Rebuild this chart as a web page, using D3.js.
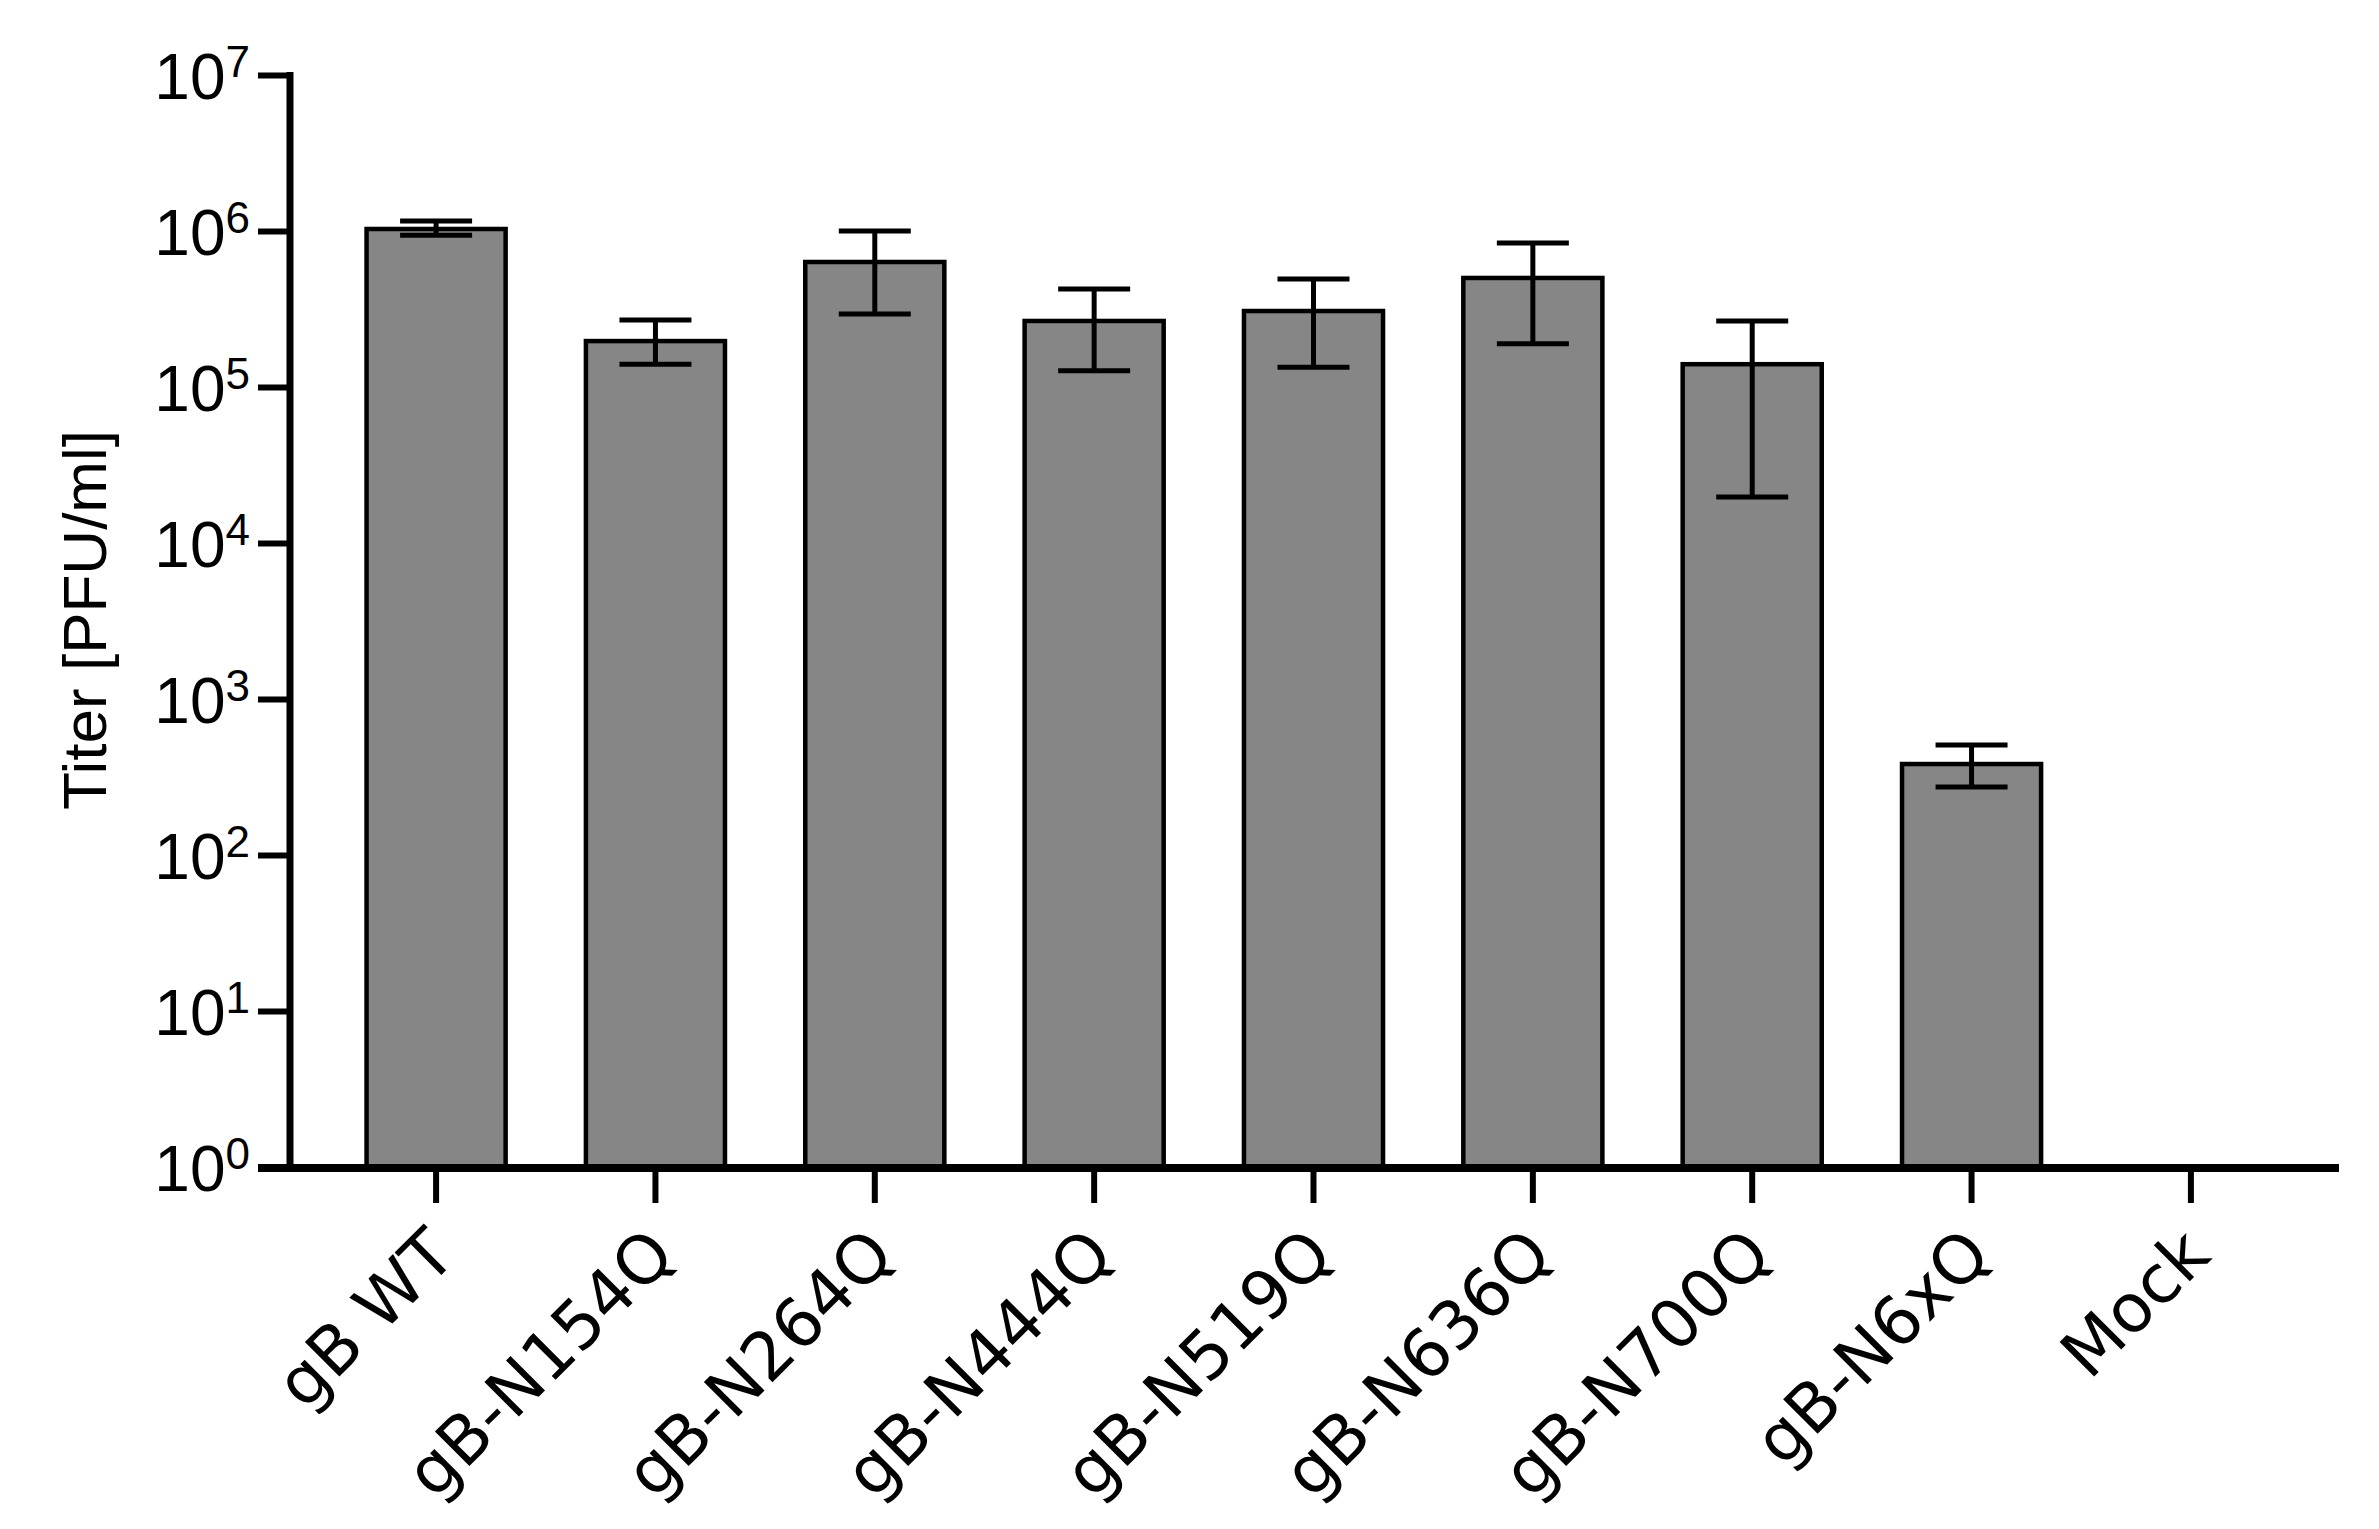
<!DOCTYPE html>
<html>
<head>
<meta charset="utf-8">
<script src="https://cdn.jsdelivr.net/npm/d3@7"></script>
<style>
  html, body { margin: 0; padding: 0; background: #ffffff; }
  svg { display: block; }
</style>
</head>
<body>
<script>
// ---- data ----
const categories = ["gB WT", "gB-N154Q", "gB-N264Q", "gB-N444Q", "gB-N519Q", "gB-N636Q", "gB-N700Q", "gB-N6xQ", "Mock"];
const titer      = [1.03e6, 1.97e5, 6.33e5, 2.65e5, 3.07e5, 5.0e5, 1.40e5, 383, null];
const errLow     = [9.4e5, 1.40e5, 2.94e5, 1.27e5, 1.34e5, 1.89e5, 1.97e4, 273, null];
const errHigh    = [1.16e6, 2.69e5, 1.0e6, 4.25e5, 4.92e5, 8.37e5, 2.65e5, 507, null];
const yTickExponents = [0, 1, 2, 3, 4, 5, 6, 7];
const yTitle = "Titer [PFU/ml]";

// ---- layout ----
const W = 2379, H = 1529;
const axisX = 290, axisRight = 2337;
const yTop = 75, yBottom = 1167;

const svg = d3.select("body").append("svg").attr("width", W).attr("height", H);

const x = d3.scaleBand().domain(categories).range([axisX, axisRight])
  .paddingInner(0.366).paddingOuter(0.349);
const y = d3.scaleLog().domain([1, 1e7]).range([yBottom, yTop]);

// bars
const data = categories.map((c, i) => ({ c, v: titer[i], lo: errLow[i], hi: errHigh[i] }));
const withVal = data.filter(d => d.v != null);

svg.append("g").selectAll("rect").data(withVal).join("rect")
  .attr("x", d => x(d.c))
  .attr("y", d => y(d.v))
  .attr("width", x.bandwidth())
  .attr("height", d => y(1) - y(d.v))
  .attr("fill", "#868686")
  .attr("stroke", "#000")
  .attr("stroke-width", 4.5);

// error bars
const capHalf = 36;
const eg = svg.append("g").attr("stroke", "#000").attr("stroke-width", 5).attr("fill", "none");
withVal.forEach(d => {
  const cx = x(d.c) + x.bandwidth() / 2;
  eg.append("line").attr("x1", cx).attr("x2", cx).attr("y1", y(d.hi)).attr("y2", y(d.lo));
  eg.append("line").attr("x1", cx - capHalf).attr("x2", cx + capHalf).attr("y1", y(d.hi)).attr("y2", y(d.hi));
  eg.append("line").attr("x1", cx - capHalf).attr("x2", cx + capHalf).attr("y1", y(d.lo)).attr("y2", y(d.lo));
});

// y axis
const yAxis = d3.axisLeft(y)
  .tickValues(yTickExponents.map(e => Math.pow(10, e)))
  .tickFormat("")
  .tickSize(32)
  .tickSizeOuter(0);
const gy = svg.append("g").attr("transform", `translate(${axisX},0)`).call(yAxis);
gy.select(".domain").attr("stroke", "#000").attr("stroke-width", 7)
  .attr("d", `M0,${yTop - 3}V${yBottom}`);
gy.selectAll(".tick line").attr("stroke", "#000").attr("stroke-width", 6);

// custom tick labels 10^n
gy.selectAll(".tick").each(function(d) {
  const e = Math.round(Math.log10(d));
  const t = d3.select(this).append("text")
    .attr("x", -40)
    .attr("y", 23)
    .attr("text-anchor", "end")
    .attr("fill", "#000")
    .style("font-family", "'Liberation Sans', Arial, sans-serif");
  t.append("tspan").style("font-size", "64px").text("10");
  t.append("tspan").style("font-size", "44px").attr("dy", -22).text(String(e));
});

// x axis
const xAxis = d3.axisBottom(x).tickSize(0).tickFormat("").tickSizeOuter(0);
const gx = svg.append("g").attr("transform", `translate(0,${yBottom + 1})`).call(xAxis);
gx.select(".domain").attr("stroke", "#000").attr("stroke-width", 8)
  .attr("d", `M${axisX - 32},0H${axisRight + 2}`);
gx.selectAll(".tick").each(function() {
  const g = d3.select(this);
  g.append("line").attr("y1", 4).attr("y2", 35).attr("stroke", "#000").attr("stroke-width", 6);
  g.append("text")
    .attr("text-anchor", "end")
    .attr("transform", "translate(22,90) rotate(-45)")
    .attr("fill", "#000")
    .style("font-family", "'DejaVu Sans', Verdana, sans-serif")
    .style("font-size", "67px")
    .text(d => d);
});

// y title
svg.append("text")
  .attr("transform", `translate(106,620) rotate(-90)`)
  .attr("text-anchor", "middle")
  .attr("fill", "#000")
  .style("font-family", "'Liberation Sans', Arial, sans-serif")
  .style("font-size", "62px")
  .text(yTitle);
</script>
</body>
</html>
